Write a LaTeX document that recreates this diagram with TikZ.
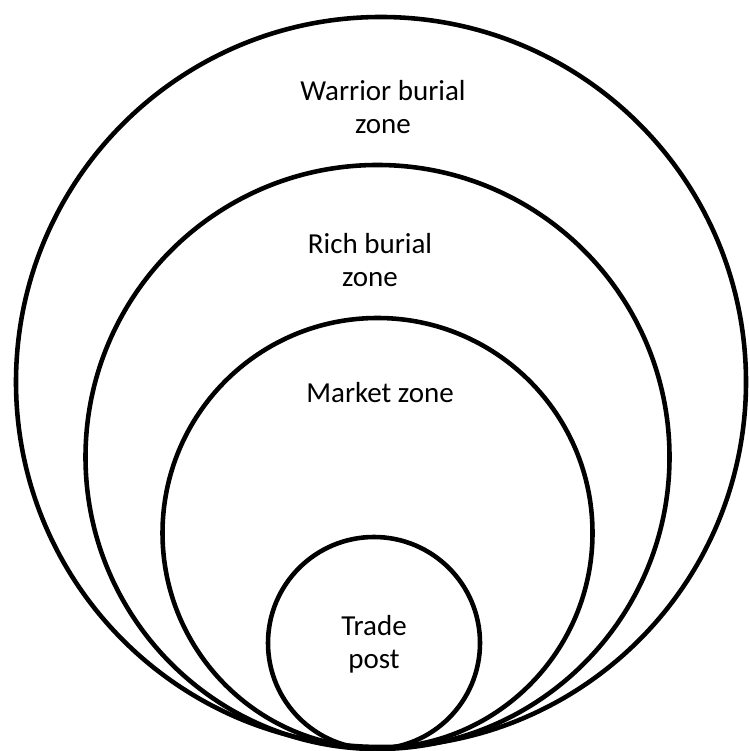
\documentclass[tikz,border=0pt]{standalone}
\usepackage{fontspec}
\setmainfont{Carlito}
\begin{document}
\begin{tikzpicture}[line width=2.6pt, font=\fontsize{16.5}{18.8}\selectfont, line join=round, line cap=round]
			\useasboundingbox (0,0) rectangle (14.96,15.02);
			\tikzset{zone/.style={align=center, inner sep=0pt}}
			\draw (7.62,7.38) circle (7.30);
			\draw (7.55,5.88) circle (5.84);
			\draw (7.55,4.36) circle (4.30);
			\draw (7.48,2.16) circle (2.12);
			\node[zone] (warrior) at (7.66,12.88) {Warrior burial\\zone};
			\node[zone] (rich) at (7.40,9.82) {Rich burial\\zone};
			\node[zone] (market) at (7.60,7.16) {Market zone};
			\node[zone] (trade) at (7.48,2.14) {Trade\\post};
		\end{tikzpicture}
\end{document}
